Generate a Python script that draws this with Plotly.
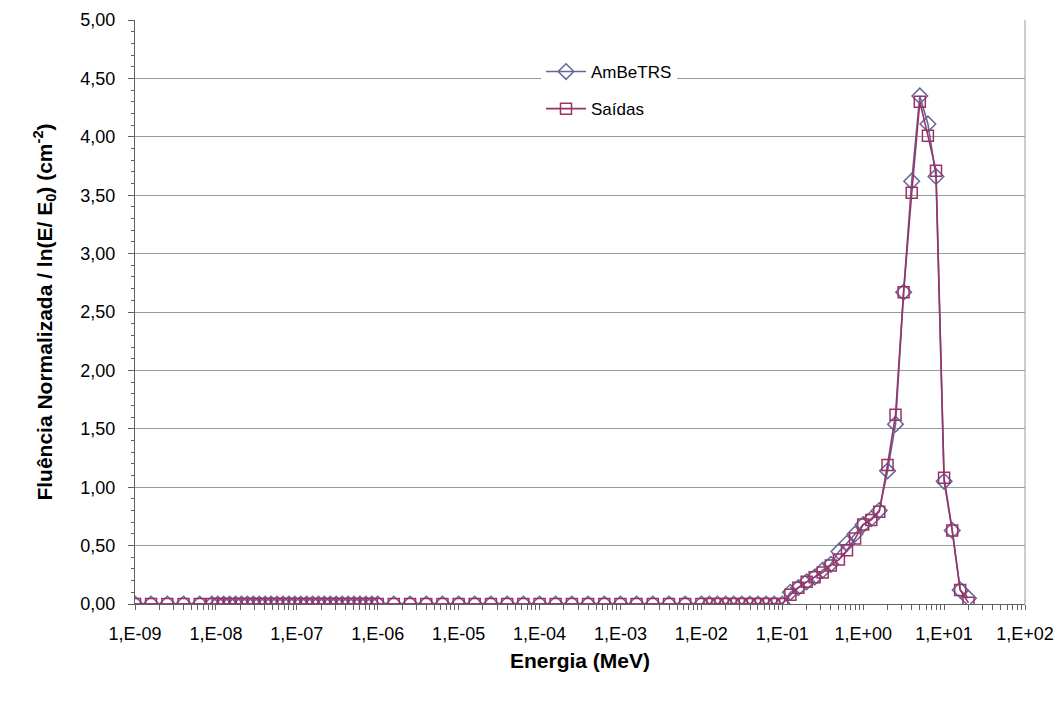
import plotly.graph_objects as go

# Energy grid (MeV)
energia = [
    1.00e-9, 1.58e-9, 2.51e-9, 3.98e-9, 6.31e-9,
    8.91e-9, 1.054e-8, 1.248e-8, 1.479e-8, 1.750e-8, 2.072e-8, 2.451e-8, 2.901e-8,
    3.436e-8, 4.064e-8, 4.81e-8, 5.69e-8, 6.75e-8, 7.98e-8, 9.44e-8, 1.117e-7,
    1.321e-7, 1.567e-7, 1.854e-7, 2.193e-7, 2.594e-7, 3.07e-7, 3.64e-7, 4.31e-7,
    5.09e-7, 6.03e-7, 7.14e-7, 8.45e-7, 1.00e-6,
    1.58e-6, 2.51e-6, 3.98e-6, 6.31e-6, 1.00e-5, 1.58e-5, 2.51e-5, 3.98e-5, 6.31e-5,
    1.00e-4, 1.58e-4, 2.51e-4, 3.98e-4, 6.31e-4, 1.00e-3, 1.58e-3, 2.51e-3, 3.98e-3,
    6.31e-3,
    1.00e-2, 1.26e-2, 1.58e-2, 2.00e-2, 2.51e-2, 3.16e-2, 3.98e-2, 5.01e-2, 6.31e-2,
    7.94e-2, 1.00e-1,
    0.126, 0.158, 0.200, 0.251, 0.316, 0.398, 0.501, 0.631, 0.794, 1.00, 1.26, 1.58,
    2.00, 2.51, 3.16, 3.98, 5.01, 6.31, 7.94, 10.0, 12.6, 15.8, 20.0,
]

n_zero = 64  # bins with no fluence below 0.1 MeV

ambetrs_alto = [
    0.10, 0.14, 0.19, 0.23, 0.29, 0.34, 0.45, 0.52, 0.60, 0.68, 0.73, 0.80,
    1.14, 1.54, 2.67, 3.62, 4.35, 4.11, 3.66, 1.05, 0.63, 0.12, 0.05,
]
saidas_alto = [
    0.08, 0.14, 0.19, 0.23, 0.27, 0.33, 0.38, 0.46, 0.56, 0.68, 0.72, 0.79,
    1.19, 1.62, 2.67, 3.52, 4.30, 4.01, 3.71, 1.08, 0.63, 0.12, 0.01,
]

ambetrs = [0.0] * n_zero + ambetrs_alto
saidas = [0.0] * n_zero + saidas_alto

y_ticks = [0.0, 0.5, 1.0, 1.5, 2.0, 2.5, 3.0, 3.5, 4.0, 4.5, 5.0]
y_labels = ["0,00", "0,50", "1,00", "1,50", "2,00", "2,50", "3,00", "3,50", "4,00", "4,50", "5,00"]

decadas = list(range(-9, 3))
x_labels = [f"1,E{'+' if d >= 0 else '-'}{abs(d):02d}" for d in decadas]

# log-axis ticks at every 1..9 multiple, labelled only at decades
x_tickvals, x_ticktext = [], []
for i, d in enumerate(decadas):
    for m in range(1, 10):
        if d == 2 and m > 1:
            break
        x_tickvals.append(m * 10.0 ** d)
        x_ticktext.append(x_labels[i] if m == 1 else "")

COR_AMBE = "#666699"
COR_SAIDAS = "#993366"
FONTE = "Liberation Sans, Arial, sans-serif"

# plot area in pixels: left 135, right 1025, top 20, bottom 604
PX_L, PX_R, PX_T, PX_B = 135, 1025, 20, 604


def px_x(p):
    return (p - PX_L) / (PX_R - PX_L)


def px_y(p):
    return (PX_B - p) / (PX_B - PX_T)


fig = go.Figure()
fig.add_trace(go.Scatter(
    x=energia, y=ambetrs, name="AmBeTRS", mode="lines+markers",
    line=dict(color=COR_AMBE, width=1.6),
    marker=dict(symbol="diamond-open", size=12, color=COR_AMBE, line=dict(width=1.5, color=COR_AMBE)),
    legendgroup="a",
))
fig.add_trace(go.Scatter(
    x=energia, y=saidas, name="Saídas", mode="lines+markers",
    line=dict(color=COR_SAIDAS, width=1.6),
    marker=dict(symbol="square-open", size=11, color=COR_SAIDAS, line=dict(width=1.5, color=COR_SAIDAS)),
    legendgroup="b",
))

fig.update_layout(
    width=1058, height=704,
    margin=dict(l=PX_L, r=1058 - PX_R, t=PX_T, b=704 - PX_B, autoexpand=False),
    paper_bgcolor="white", plot_bgcolor="white",
    font=dict(family=FONTE, size=17, color="black"),
    showlegend=True,
    legend=dict(
        x=px_x(541), y=px_y(54), xref="paper", yref="paper", xanchor="left", yanchor="top",
        bgcolor="white", borderwidth=0, font=dict(size=17),
        tracegroupgap=12, traceorder="grouped", itemwidth=40,
    ),
    xaxis=dict(
        type="log", range=[-9, 2], automargin=False,
        tickmode="array", tickvals=x_tickvals, ticktext=x_ticktext,
        ticks="outside", ticklen=5, tickcolor="#606060",
        showgrid=False, zeroline=False,
        showline=True, linecolor="#606060", linewidth=1,
        tickfont=dict(size=18), ticklabelstandoff=8,
        title=dict(text="<b>Energia (MeV)</b>", font=dict(size=21), standoff=10),
    ),
    yaxis=dict(
        range=[0, 5], automargin=False,
        tickmode="array", tickvals=y_ticks, ticktext=y_labels,
        ticks="outside", ticklen=6, tickcolor="#606060",
        showgrid=True, gridcolor="#999999", gridwidth=1, zeroline=False,
        showline=True, linecolor="#606060", linewidth=1,
        minor=dict(dtick=0.1, ticks="outside", ticklen=3, tickcolor="#606060", showgrid=False),
        tickfont=dict(size=18), ticklabelstandoff=9,
        title=dict(text="<b>Fluência Normalizada / ln(E/ E<sub>0</sub>) (cm<sup>-2</sup>)</b>",
                   font=dict(size=21), standoff=22),
    ),
    shapes=[
        dict(type="line", xref="paper", yref="paper", x0=1, x1=1, y0=0, y1=1,
             line=dict(color="#999999", width=1)),
        # white panel behind the legend, hiding the gridline it sits on
        dict(type="rect", xref="paper", yref="paper", layer="between",
             x0=px_x(505), x1=px_x(700), y0=px_y(128), y1=px_y(52),
             fillcolor="white", line=dict(width=0)),
    ],
)

fig.write_html("out.html")
